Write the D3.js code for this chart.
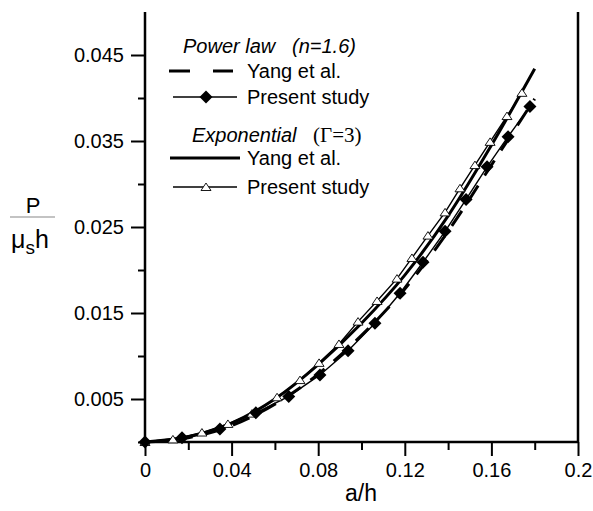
<!DOCTYPE html>
<html>
<head>
<meta charset="utf-8">
<script src="https://cdn.jsdelivr.net/npm/d3@7"></script>
<style>
  body { margin: 0; background: #fff; }
  svg { display: block; font-family: Arial, "Liberation Sans", sans-serif; }
</style>
</head>
<body>
<svg id="chart" width="593" height="511"></svg>
<script>
// Yang et al. curves (smooth)
var yangX = [0, 0.02, 0.04, 0.06, 0.08, 0.10, 0.12, 0.14, 0.16, 0.18];
var yangPower = [0, 0.0005, 0.0019, 0.0044, 0.0079, 0.0124, 0.0178, 0.0245, 0.0322, 0.0399];
var yangExp = [0, 0.0006, 0.0022, 0.0050, 0.0090, 0.0138, 0.0194, 0.0263, 0.0345, 0.0434];

// present study, power law (diamonds)
var powerX = [0, 0.0171, 0.0346, 0.0512, 0.0664, 0.0808, 0.0938, 0.1062, 0.1178, 0.1284, 0.1386, 0.1483, 0.1580, 0.1677, 0.1778];
var powerY = [0, 0.0005, 0.0015, 0.0034, 0.0053, 0.0078, 0.0106, 0.0138, 0.0173, 0.0209, 0.0245, 0.0282, 0.0320, 0.0355, 0.0390];

// present study, exponential (triangles)
var expX = [0, 0.0129, 0.0263, 0.0383, 0.0494, 0.0610, 0.0716, 0.0804, 0.0896, 0.0984, 0.1072, 0.1164, 0.1233, 0.1307, 0.1386, 0.1455, 0.1524, 0.1594, 0.1672, 0.1741];
var expY = [0, 0.0003, 0.0011, 0.0021, 0.0033, 0.0052, 0.0072, 0.0092, 0.0114, 0.0140, 0.0164, 0.0190, 0.0214, 0.0240, 0.0267, 0.0295, 0.0322, 0.0349, 0.0379, 0.0406];

var xTicks = [0, 0.04, 0.08, 0.12, 0.16, 0.2];
var xMinor = [0.02, 0.06, 0.10, 0.14, 0.18];
var yTicks = [0.005, 0.015, 0.025, 0.035, 0.045];
var yMinor = [0, 0.01, 0.02, 0.03, 0.04];

var margin = { top: 12, right: 15, bottom: 69, left: 145 },
  width = 593 - margin.left - margin.right,
  height = 511 - margin.top - margin.bottom;

var svg = d3.select("#chart")
  .append("g")
  .attr("transform", "translate(" + margin.left + "," + margin.top + ")");

var x = d3.scaleLinear().domain([0, 0.2]).range([0, width]);
var y = d3.scaleLinear().domain([0, 0.05]).range([height, 0]);

// axes
svg.append("g")
  .attr("transform", "translate(0," + height + ")")
  .call(d3.axisBottom(x).tickValues(xTicks).tickSize(14).tickPadding(7)
    .tickFormat(function (d) { return d === 0 ? "0" : d3.format("~g")(d); }));
svg.append("g")
  .attr("transform", "translate(0," + height + ")")
  .call(d3.axisBottom(x).tickValues(xMinor).tickSize(8).tickFormat(""));

svg.append("g")
  .call(d3.axisLeft(y).tickValues(yTicks).tickSize(14).tickPadding(7)
    .tickFormat(d3.format(".3f")));
svg.append("g")
  .call(d3.axisLeft(y).tickValues(yMinor).tickSize(7).tickFormat(""));

svg.selectAll(".domain").remove();
svg.selectAll(".tick line").attr("stroke-width", 2);
svg.selectAll(".tick text").attr("font-size", 20).attr("fill", "#000");

// axis lines (left, bottom, right)
svg.append("line").attr("x1", 0).attr("x2", 0).attr("y1", 0).attr("y2", height)
  .attr("stroke", "#000").attr("stroke-width", 2.5);
svg.append("line").attr("x1", 0).attr("x2", width).attr("y1", height).attr("y2", height)
  .attr("stroke", "#000").attr("stroke-width", 2.5);
svg.append("line").attr("x1", width).attr("x2", width).attr("y1", 0).attr("y2", height)
  .attr("stroke", "#000").attr("stroke-width", 2.5);

// curves
var smooth = d3.line().x(function (d) { return x(d[0]); }).y(function (d) { return y(d[1]); })
  .curve(d3.curveMonotoneX);
var straight = d3.line().x(function (d) { return x(d[0]); }).y(function (d) { return y(d[1]); });

var expPts = d3.zip(expX, expY);
var powerPts = d3.zip(powerX, powerY);

svg.append("path").datum(expPts).attr("d", straight)
  .attr("fill", "none").attr("stroke", "#000").attr("stroke-width", 1.4);
svg.append("path").datum(d3.zip(yangX, yangExp)).attr("d", smooth)
  .attr("fill", "none").attr("stroke", "#000").attr("stroke-width", 3);
svg.append("path").datum(powerPts).attr("d", straight)
  .attr("fill", "none").attr("stroke", "#000").attr("stroke-width", 1.4);
svg.append("path").datum(d3.zip(yangX, yangPower)).attr("d", smooth)
  .attr("fill", "none").attr("stroke", "#000").attr("stroke-width", 3)
  .attr("stroke-dasharray", "18,12");

// marker shapes: small flat triangle, square-ish diamond
var tri = "M-5,3.5L0,-4L5,3.5Z";
var dia = "M0,-6.5L6.5,0L0,6.5L-6.5,0Z";

svg.selectAll(".tri").data(expPts).enter().append("path")
  .attr("class", "tri")
  .attr("transform", function (d) { return "translate(" + x(d[0]) + "," + y(d[1]) + ")"; })
  .attr("d", tri).attr("fill", "#fff").attr("stroke", "#000").attr("stroke-width", 0.9);

svg.selectAll(".dia").data(powerPts).enter().append("path")
  .attr("class", "dia")
  .attr("transform", function (d) { return "translate(" + x(d[0]) + "," + y(d[1]) + ")"; })
  .attr("d", dia).attr("fill", "#000");

// legend
var root = d3.select("#chart");
root.append("text").attr("x", 183).attr("y", 53).attr("font-size", 20)
  .attr("font-style", "italic").text("Power law");
root.append("text").attr("x", 292).attr("y", 53).attr("font-size", 20)
  .attr("font-style", "italic").text("(n=1.6)");

root.append("line").attr("x1", 169).attr("x2", 233).attr("y1", 71).attr("y2", 71)
  .attr("stroke", "#000").attr("stroke-width", 3).attr("stroke-dasharray", "21,23");
root.append("text").attr("x", 247).attr("y", 78).attr("font-size", 20).text("Yang et al.");

root.append("line").attr("x1", 173).attr("x2", 237).attr("y1", 97).attr("y2", 97)
  .attr("stroke", "#000").attr("stroke-width", 1.4);
root.append("path").attr("transform", "translate(206,97)").attr("d", dia).attr("fill", "#000");
root.append("text").attr("x", 247).attr("y", 104).attr("font-size", 20).text("Present study");

root.append("text").attr("x", 192).attr("y", 142).attr("font-size", 20)
  .attr("font-style", "italic").text("Exponential");
root.append("text").attr("x", 313).attr("y", 142).attr("font-size", 21)
  .attr("font-family", "'Liberation Serif', 'Times New Roman', serif").text("(\u0393=3)");

root.append("line").attr("x1", 170).attr("x2", 240).attr("y1", 158).attr("y2", 158)
  .attr("stroke", "#000").attr("stroke-width", 3);
root.append("text").attr("x", 247).attr("y", 165).attr("font-size", 20).text("Yang et al.");

root.append("line").attr("x1", 173).attr("x2", 237).attr("y1", 187).attr("y2", 187)
  .attr("stroke", "#000").attr("stroke-width", 1.4);
root.append("path").attr("transform", "translate(206,187)").attr("d", tri)
  .attr("fill", "#fff").attr("stroke", "#000").attr("stroke-width", 0.9);
root.append("text").attr("x", 247).attr("y", 194).attr("font-size", 20).text("Present study");

// axis titles
root.append("text").attr("x", 361).attr("y", 501).attr("text-anchor", "middle")
  .attr("font-size", 23).text("a/h");

root.append("text").attr("x", 33).attr("y", 213).attr("text-anchor", "middle")
  .attr("font-size", 22).text("P");
root.append("line").attr("x1", 10).attr("x2", 55).attr("y1", 217).attr("y2", 217)
  .attr("stroke", "#888").attr("stroke-width", 1.2);
var ml = root.append("text").attr("x", 11).attr("y", 248).attr("font-size", 25);
ml.append("tspan").text("\u03bc");
ml.append("tspan").attr("font-size", 19).attr("dy", 6).text("s");
ml.append("tspan").attr("dy", -6).text("h");
</script>
</body>
</html>
